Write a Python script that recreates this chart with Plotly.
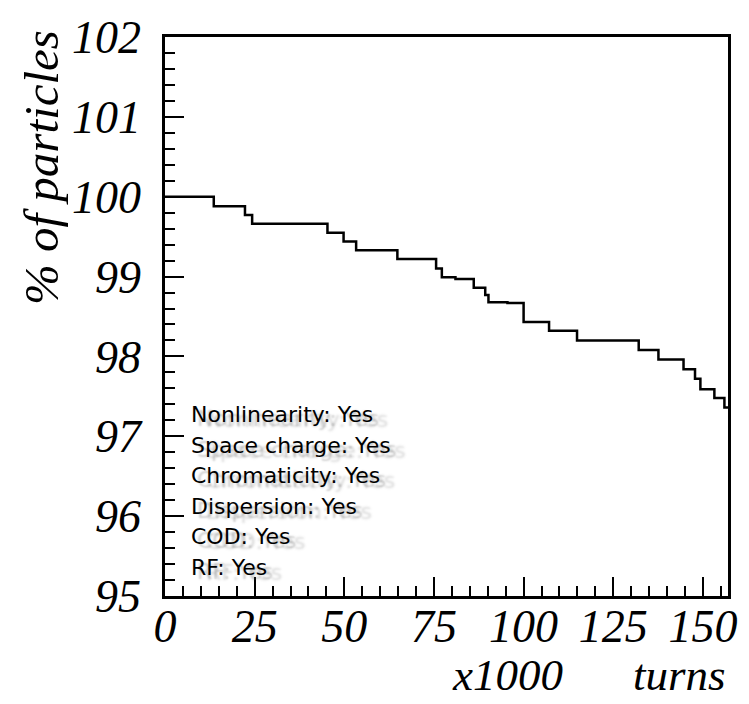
import plotly.graph_objects as go

# Surviving beam fraction versus turn number (thousands of turns), step-wise losses
turns = [0, 13.6, 22.3, 24.3, 45.3, 49.8, 53.3, 64.8, 75.6, 77.2, 81.0, 86.1,
         89.3, 90.2, 95.5, 100.0, 107.1, 114.9, 132.1, 137.6, 144.6, 147.8,
         149.3, 153.2, 156.0, 157.0]
percent = [100.0, 99.88, 99.77, 99.66, 99.55, 99.44, 99.33, 99.22, 99.10, 98.99,
           98.97, 98.86, 98.77, 98.68, 98.67, 98.43, 98.32, 98.20, 98.08, 97.96,
           97.84, 97.72, 97.59, 97.48, 97.36, 97.36]

x_ticks = [0, 25, 50, 75, 100, 125, 150]
y_ticks = [95, 96, 97, 98, 99, 100, 101, 102]

settings = ["Nonlinearity: Yes", "Space charge: Yes", "Chromaticity: Yes",
            "Dispersion: Yes", "COD: Yes", "RF: Yes"]

serif = "Liberation Serif"

fig = go.Figure()
fig.add_trace(go.Scatter(
    x=turns, y=percent, mode="lines",
    line=dict(shape="hv", color="black", width=2.5),
    hoverinfo="skip", showlegend=False,
))

axis_common = dict(
    showline=True, linecolor="black", linewidth=2.5, mirror=True,
    showgrid=False, zeroline=False,
    ticks="inside", tickcolor="black", tickwidth=2, ticklen=19,
    tickfont=dict(family=serif, size=46, color="black", style="italic"),
)

fig.update_xaxes(
    range=[0, 157], tickvals=x_ticks, ticktext=[str(v) for v in x_ticks],
    minor=dict(ticks="inside", dtick=5, ticklen=10, tickwidth=2, tickcolor="black"),
    ticklabelstandoff=-12,
    **axis_common,
)
fig.update_yaxes(
    range=[95, 102], tickvals=y_ticks, ticktext=[str(v) for v in y_ticks],
    minor=dict(ticks="inside", dtick=0.2, ticklen=10, tickwidth=2, tickcolor="black"),
    ticklabelstandoff=12,
    **axis_common,
)

annotations = [
    dict(text="% of particles", textangle=-90, xref="paper", yref="paper",
         x=-0.218, y=0.766, xanchor="center", yanchor="middle", showarrow=False,
         font=dict(family=serif, size=49, color="black", style="italic")),
    dict(text="x1000", xref="paper", yref="paper", x=0.609, y=-0.141,
         xanchor="center", yanchor="middle", showarrow=False,
         font=dict(family=serif, size=45, color="black", style="italic")),
    dict(text="turns", xref="paper", yref="paper", x=1.0, y=-0.141,
         xanchor="right", yanchor="middle", showarrow=False,
         font=dict(family=serif, size=45, color="black", style="italic")),
]

# Settings list; each line carries a soft grey drop shadow trailing to the right
top_px, step_px, left_px = 411.7, 31.0, 189
shadow = ("6px 4px 2px rgba(80,80,80,0.28), "
          "15px 5px 2.5px rgba(80,80,80,0.22)")
for i, line in enumerate(settings):
    yc = 1 - (top_px + i * step_px - 28) / 568
    annotations.append(dict(
        text=line, xref="paper", yref="paper", x=(left_px - 165) / 568, y=yc,
        xanchor="left", yanchor="middle", showarrow=False,
        font=dict(family="DejaVu Sans", size=22, color="black", shadow=shadow),
    ))

fig.update_layout(
    width=749, height=704,
    margin=dict(l=165, r=16, t=28, b=108),
    paper_bgcolor="white", plot_bgcolor="white",
    annotations=annotations,
)

fig.write_html("out.html")
